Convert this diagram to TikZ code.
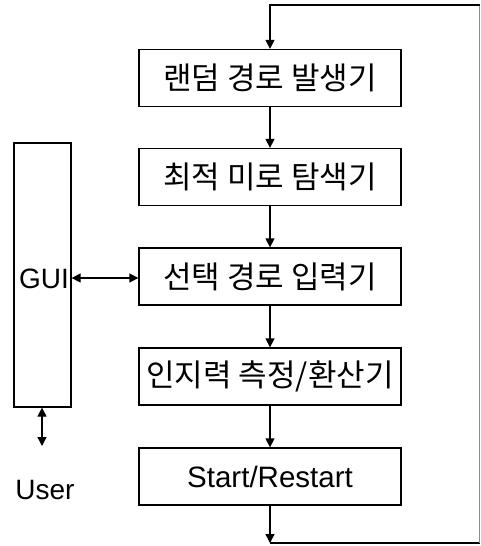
\documentclass[tikz,border=0pt]{standalone}
\usepackage{fontspec}
\setmainfont{Liberation Sans}
\newfontfamily\kor{Noto Sans CJK KR}
\usetikzlibrary{arrows.meta}
\tikzset{
  x=1pt, y=-1pt,
  stepbox/.style={draw, line width=1.3pt, minimum width=262pt, minimum height=57pt, inner sep=0pt, font=\kor\fontsize{31}{34}\selectfont},
  guibox/.style={draw, line width=1.3pt, minimum width=57pt, minimum height=264pt, inner sep=0pt},
  flow/.style={line width=1.3pt},
  tip/.style={-{Triangle[length=9pt,width=9pt]}},
  both/.style={{Triangle[length=9pt,width=9pt]}-{Triangle[length=9pt,width=9pt]}},
  lbl/.style={inner sep=0pt, font=\fontsize{28}{32}\selectfont}
}
\begin{document}
\begin{tikzpicture}
\useasboundingbox (0,0) rectangle (481,546);
% processing chain
\node[stepbox] (b1) at (270,78) {랜덤 경로 발생기};
\node[stepbox] (b2) at (270,177) {최적 미로 탐색기};
\node[stepbox] (b3) at (270,276.5) {선택 경로 입력기};
\node[stepbox] (b4) at (270,376.5) {인지력 측정/환산기};
\node[stepbox, font=\fontsize{29.5}{33}\selectfont] (b5) at (270,476.5) {Start/Restart};
% user interface
\node[guibox] (gui) at (42.5,275) {};
\node[lbl, anchor=west] (guit) at (19,279) {GUI};
\node[lbl] (user) at (45,490) {User};
% loop corners
\coordinate (tl) at (270,5);
\coordinate (tr) at (479.5,5);
\coordinate (bl) at (270,543);
\coordinate (br) at (479.5,543);
\coordinate (ua) at (42,446);
% connectors
\draw[flow, tip] (b1) -- (b2);
\draw[flow, tip] (b2) -- (b3);
\draw[flow, tip] (b3) -- (b4);
\draw[flow, tip] (b4) -- (b5);
\draw[flow, tip] (b5) -- (bl);
\draw[flow] (bl) -- (br);
\draw[line width=1pt, black!45] (br) -- (tr);
\draw[flow, tip] (tr) -- (tl) -- (b1);
\draw[flow, both] (gui.east |- 0,278) -- (b3.west |- 0,278);
\draw[flow, both] (gui.south -| ua) -- (ua);
\end{tikzpicture}
\end{document}
